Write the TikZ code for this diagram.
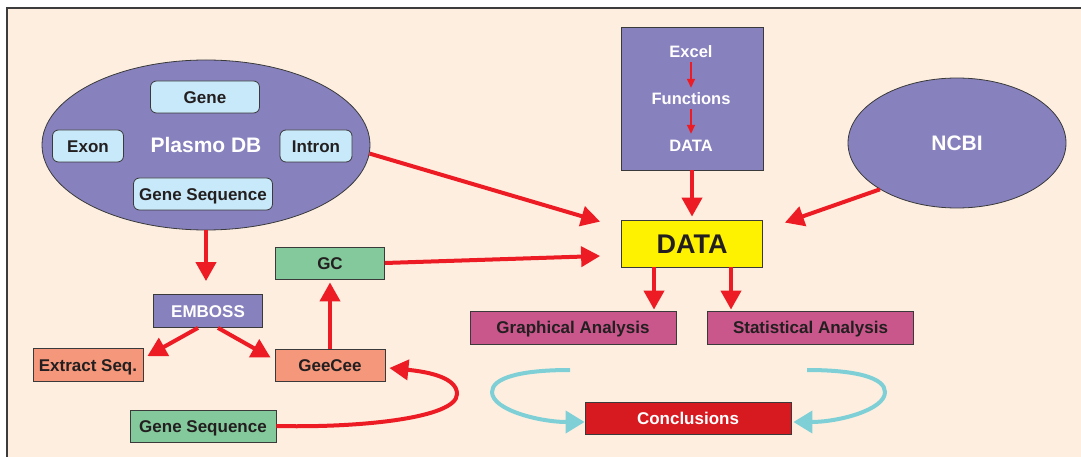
\documentclass[tikz,border=0pt]{standalone}
\usepackage{fontspec}
\setmainfont{Liberation Sans}
\usetikzlibrary{shapes.geometric,arrows.meta}
\definecolor{bgc}{HTML}{FDEEE0}
\definecolor{framec}{HTML}{3C3C3C}
\definecolor{edgec}{HTML}{3A3A3A}
\definecolor{purp}{HTML}{8781BD}
\definecolor{lblue}{HTML}{C8E9F9}
\definecolor{grn}{HTML}{83C99B}
\definecolor{salm}{HTML}{F4977A}
\definecolor{pinkc}{HTML}{C9578B}
\definecolor{conc}{HTML}{D71920}
\definecolor{yel}{HTML}{FFF200}
\definecolor{redarr}{HTML}{ED1C24}
\definecolor{cyanc}{HTML}{7ED0D6}
\definecolor{txt}{HTML}{231F20}
\begin{document}
\begin{tikzpicture}[x=1pt,y=-1pt,
  lbl/.style={font=\fontsize{17}{20}\selectfont\bfseries},
  box/.style={lbl, draw=edgec, line width=0.8pt, minimum height=32pt, inner sep=0pt, text=txt, text height=12.2pt, text depth=0pt},
  rbox/.style={box, rounded corners=6pt, fill=lblue},
  arr/.style={draw=redarr, line width=4pt, -{Triangle[length=19pt,width=20pt]}},
  smallarr/.style={draw=redarr, line width=1.6pt, -{Triangle[length=9pt,width=8pt]}},
  carr/.style={draw=cyanc, line width=4pt, -{Triangle[length=19pt,width=22pt]}},
  big/.style={text=white, inner sep=0pt, text height=15pt, text depth=0pt, font=\fontsize{21}{24}\selectfont\bfseries},
  wtxt/.style={text=white, inner sep=0pt, text height=12pt, text depth=0pt, font=\fontsize{16.5}{19}\selectfont\bfseries}]
\useasboundingbox (0,0) rectangle (1081,457);
\fill[bgc] (7,8) rectangle (1081,457);
\draw[framec, line width=1.4pt] (7,457) -- (7,8) -- (1081,8);

% Plasmo DB
\node[big, ellipse, draw=edgec, line width=0.8pt, fill=purp, minimum width=328pt, minimum height=170pt] (plasmo) at (206,145) {Plasmo DB};
\node[rbox, minimum width=109pt] (gene) at (205,97) {Gene};
\node[rbox, minimum width=71pt] (exon) at (88,146) {Exon};
\node[rbox, minimum width=72pt] (intron) at (316,146) {Intron};
\node[rbox, minimum width=139pt] (gseqa) at (203,194) {Gene Sequence};

% left lower part
\node[box, fill=purp, text=white, minimum width=109pt, minimum height=33pt] (emboss) at (208,311) {EMBOSS};
\node[box, fill=salm, minimum width=110pt, minimum height=33pt] (extract) at (88,365) {Extract Seq.};
\node[box, fill=salm, minimum width=110pt] (geecee) at (330,365) {GeeCee};
\node[box, fill=grn, minimum width=109pt] (gc) at (330,263) {GC};
\node[box, fill=grn, minimum width=146pt] (gseqb) at (203,426) {Gene Sequence};

% Excel box
\node[draw=edgec, line width=0.8pt, fill=purp, minimum width=142pt, minimum height=143pt, inner sep=0pt] (excel) at (692,98.5) {};
\node[wtxt] (exc) at (691,52) {Excel};
\node[wtxt] (func) at (691,99) {Functions};
\node[wtxt] (dat) at (691,146) {DATA};
\draw[smallarr] ([yshift=-4pt]exc.south) -- ([yshift=5pt]func.north);
\draw[smallarr] ([yshift=-4pt]func.south) -- ([yshift=6pt]dat.north);

% NCBI
\node[big, ellipse, draw=edgec, line width=0.8pt, fill=purp, minimum width=218pt, minimum height=130pt] (ncbi) at (957,143) {NCBI};

% DATA
\node[box, fill=yel, minimum width=141pt, minimum height=47pt, text height=19.4pt, font=\fontsize{27}{30}\selectfont\bfseries] (data) at (692,243.5) {DATA};

% analyses
\node[box, fill=pinkc, minimum width=206pt, minimum height=33pt] (graph) at (573,327.5) {Graphical Analysis};
\node[box, fill=pinkc, minimum width=206pt, minimum height=33pt] (stat) at (810.5,327.5) {Statistical Analysis};
\node[box, fill=conc, text=white, minimum width=206pt] (concl) at (688,418) {Conclusions};

% red connectors
\coordinate (embtop) at ([yshift=13pt]emboss.north);
\draw[arr] (plasmo.south) -- (plasmo.south |- embtop);
\draw[arr] ([xshift=-10pt]emboss.south) -- ([xshift=4pt,yshift=-8pt]extract.north east);
\draw[arr] ([xshift=10pt]emboss.south) -- ([xshift=-4pt,yshift=-9pt]geecee.north west);
\draw[arr] (geecee.north) -- ([yshift=-3pt]gc.south);
\draw[arr] (gseqb.east) .. controls (360,428) and (457,418) .. (457,394)
  .. controls (457,378) and (430,372) .. ([xshift=4pt,yshift=-3pt]geecee.east);
\draw[arr] (gc.east) -- ([xshift=-21pt,yshift=-12.5pt]data.west);
\draw[arr] (plasmo.-3) -- ([xshift=-21pt,yshift=-2pt]data.north west);
\draw[arr] (excel.south) -- ([yshift=3pt]data.north);
\draw[arr] (ncbi.211) -- ([xshift=22pt,yshift=-3pt]data.north east);
\draw[arr] ([xshift=-38pt]data.south) -- ([xshift=81pt,yshift=1pt]graph.north);
\draw[arr] ([xshift=39pt]data.south) -- ([xshift=-79.5pt,yshift=1pt]stat.north);

% cyan connectors
\coordinate (cl) at (570,370);
\coordinate (cr) at (807,370);
\draw[carr] (cl) .. controls (520,370) and (492,378) .. (492,392)
  .. controls (492,410) and (540,422) .. ([yshift=-4pt]concl.west);
\draw[carr] (cr) .. controls (857,370) and (885,378) .. (885,392)
  .. controls (885,410) and (838,422) .. ([yshift=-4pt,xshift=2pt]concl.east);
\end{tikzpicture}
\end{document}
